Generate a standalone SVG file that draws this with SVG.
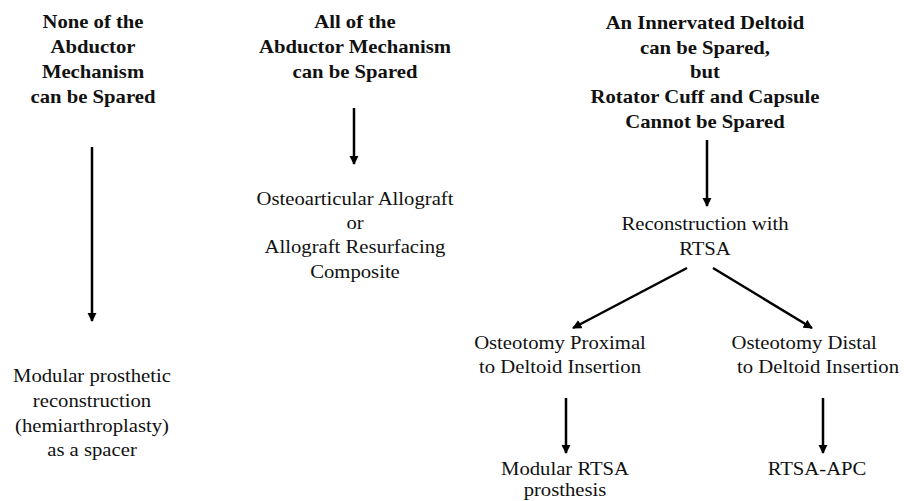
<svg xmlns="http://www.w3.org/2000/svg" width="904" height="501" viewBox="0 0 904 501" font-family="'Liberation Serif', 'Times New Roman', Times, serif">
<style>
text{font-family:'Liberation Serif','Times New Roman',Times,serif;font-size:18px;fill:#111;text-anchor:middle}
.b{font-weight:bold}
.c line{stroke:#000;stroke-width:2.5}
</style>
<defs>
<marker id="ah" viewBox="0 0 10 10" refX="9" refY="5" markerWidth="3.7" markerHeight="3.7" orient="auto" markerUnits="strokeWidth">
<path d="M0,0 L10,5 L0,10 z" fill="#000"/>
</marker>
</defs>
<rect width="904" height="501" fill="#fff"/>
<g id="n1" transform="translate(93,0) scale(1.15,1)">
<text class="b" x="0" y="28">None of the</text>
<text class="b" x="0" y="53">Abductor</text>
<text class="b" x="0" y="78">Mechanism</text>
<text class="b" x="0" y="103">can be Spared</text>
</g>
<g id="n2" transform="translate(355,0) scale(1.15,1)">
<text class="b" x="0" y="28">All of the</text>
<text class="b" x="0" y="53">Abductor  Mechanism</text>
<text class="b" x="0" y="78">can be Spared</text>
</g>
<g id="n3" transform="translate(705,0) scale(1.15,1)">
<text class="b" x="0" y="29">An Innervated  Deltoid</text>
<text class="b" x="0" y="54">can be Spared,</text>
<text class="b" x="0" y="78">but</text>
<text class="b" x="0" y="103">Rotator Cuff and Capsule</text>
<text class="b" x="0" y="128">Cannot be Spared</text>
</g>
<g id="n4" transform="translate(92,0) scale(1.15,1)">
<text x="0" y="382">Modular prosthetic</text>
<text x="0" y="407">reconstruction</text>
<text x="0" y="432">(hemiarthroplasty)</text>
<text x="0" y="456">as a spacer</text>
</g>
<g id="n5" transform="translate(355,0) scale(1.15,1)">
<text x="0" y="205">Osteoarticular Allograft</text>
<text x="0" y="229">or</text>
<text x="0" y="253">Allograft Resurfacing</text>
<text x="0" y="278">Composite</text>
</g>
<g id="n6" transform="translate(705,0) scale(1.15,1)">
<text x="0" y="230">Reconstruction with</text>
<text x="0" y="255">RTSA</text>
</g>
<g id="n7" transform="translate(560,0) scale(1.15,1)">
<text x="0" y="349">Osteotomy Proximal</text>
<text x="0" y="373">to Deltoid Insertion</text>
</g>
<g id="n8" transform="translate(818,0) scale(1.15,1)">
<text x="-12" y="349">Osteotomy Distal</text>
<text x="0" y="373">to Deltoid Insertion</text>
</g>
<g id="n9" transform="translate(565,0) scale(1.15,1)">
<text x="0" y="475">Modular RTSA</text>
<text x="0" y="496">prosthesis</text>
</g>
<g id="n10" transform="translate(817,0) scale(1.15,1)">
<text x="0" y="475">RTSA-APC</text>
</g>
<g id="connectors" class="c">
<line x1="92" y1="147" x2="92" y2="321" marker-end="url(#ah)"/>
<line x1="354" y1="108" x2="354" y2="164" marker-end="url(#ah)"/>
<line x1="707" y1="140" x2="707" y2="206" marker-end="url(#ah)"/>
<line x1="687" y1="268" x2="573" y2="328" marker-end="url(#ah)"/>
<line x1="713" y1="268" x2="812" y2="328" marker-end="url(#ah)"/>
<line x1="566" y1="398" x2="566" y2="453" marker-end="url(#ah)"/>
<line x1="823" y1="398" x2="823" y2="453" marker-end="url(#ah)"/>
</g>
</svg>
